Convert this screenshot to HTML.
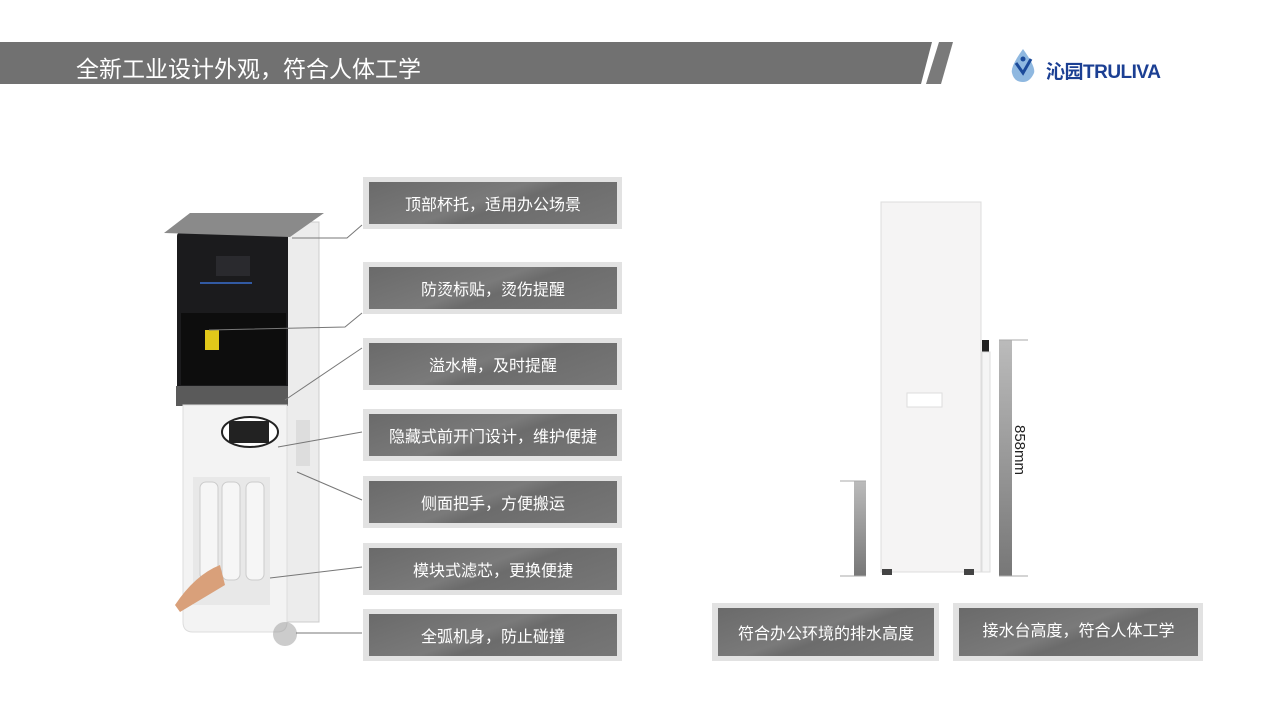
<!DOCTYPE html>
<html><head><meta charset="utf-8"><style>
body{margin:0;width:1280px;height:720px;background:#fff;position:relative;overflow:hidden;font-family:"Liberation Sans","Noto Sans CJK SC",sans-serif}
.box{position:absolute;background:#e2e2e2;}
.box .in{position:absolute;left:6px;right:5px;top:5px;bottom:5px;background:linear-gradient(160deg,#6a6a6a 0%,#7a7a7a 45%,#6c6c6c 55%,#777 100%);color:#fff;font-size:16px;display:flex;align-items:center;justify-content:center}
</style></head><body>
<svg width="1280" height="720" style="position:absolute;left:0;top:0">
<polygon points="0,42 932,42 921,84 0,84" fill="#717171"/>
<polygon points="939,42 953,42 941,84 926,84" fill="#7a7a7a"/>
<rect x="287" y="222" width="32" height="400" fill="#ececec" stroke="#ccc"/>
<rect x="296" y="420" width="14" height="46" fill="#ddd"/>
<rect x="177" y="232" width="111" height="170" rx="4" fill="#1b1b1d"/>
<rect x="181" y="313" width="105" height="72" fill="#0d0d0d"/>
<rect x="205" y="330" width="14" height="20" fill="#e1c81a"/>
<rect x="216" y="256" width="34" height="20" fill="#2a2a2e"/>
<line x1="200" y1="283" x2="252" y2="283" stroke="#3a6fd0" stroke-width="1.5"/>
<polygon points="164,233 190,213 324,213 290,237" fill="#8a8a8a"/>
<rect x="176" y="386" width="112" height="20" fill="#5a5a5a"/>
<path d="M183,405 H287 V622 Q287,632 277,632 H193 Q183,632 183,622 Z" fill="#f3f3f3" stroke="#ddd"/>
<ellipse cx="250" cy="432" rx="28" ry="15" fill="#fff" stroke="#222" stroke-width="2"/>
<rect x="229" y="421" width="40" height="22" fill="#222"/>
<rect x="193" y="477" width="77" height="128" fill="#e8e8e8"/>
<rect x="200" y="482" width="18" height="98" rx="6" fill="#f6f6f6" stroke="#ccc"/>
<rect x="222" y="482" width="18" height="98" rx="6" fill="#f6f6f6" stroke="#ccc"/>
<rect x="246" y="482" width="18" height="98" rx="6" fill="#f6f6f6" stroke="#ccc"/>
<path d="M175,605 Q195,575 220,565 L225,585 Q200,600 180,612 Z" fill="#d9a07a"/>
<circle cx="285" cy="634" r="12" fill="#999" opacity="0.5"/>
<g stroke="#777" stroke-width="1" fill="none">
<polyline points="292,238 347,238 362,225"/>
<polyline points="209,330 345,327 362,313"/>
<polyline points="285,400 362,348"/>
<polyline points="278,447 362,432"/>
<polyline points="297,472 362,500"/>
<polyline points="270,578 362,567"/>
<polyline points="296,633 362,633"/>
</g>
<rect x="881" y="202" width="100" height="370" fill="#f5f4f4" stroke="#ddd"/>
<rect x="907" y="393" width="35" height="14" fill="#fff" stroke="#ddd"/>
<rect x="882" y="569" width="10" height="6" fill="#444"/>
<rect x="964" y="569" width="10" height="6" fill="#444"/>
<rect x="982" y="340" width="7" height="12" fill="#222"/>
<rect x="982" y="352" width="8" height="220" fill="#f5f5f5" stroke="#ddd"/>
<defs><linearGradient id="g" x1="0" y1="0" x2="0" y2="1"><stop offset="0" stop-color="#bbb"/><stop offset="1" stop-color="#777"/></linearGradient></defs>
<rect x="999" y="340" width="13" height="236" fill="url(#g)"/>
<line x1="999" y1="340" x2="1028" y2="340" stroke="#aaa"/>
<line x1="999" y1="576" x2="1028" y2="576" stroke="#aaa"/>
<rect x="854" y="481" width="12" height="95" fill="url(#g)"/>
<line x1="840" y1="481" x2="866" y2="481" stroke="#aaa"/>
<line x1="840" y1="576" x2="866" y2="576" stroke="#aaa"/>
<text x="0" y="0" transform="translate(1015,425) rotate(90)" font-family="Liberation Sans" font-size="15" fill="#222">858mm</text>
</svg>
<div style="position:absolute;left:76px;top:50px;color:#fff;font-size:23px;">全新工业设计外观，符合人体工学</div>
<div style="position:absolute;left:1008px;top:47px;width:30px;height:36px;">
<svg width="30" height="36"><path d="M15,2 Q28,20 26,26 Q22,35 15,35 Q6,35 4,26 Q2,20 15,2Z" fill="#8fb8e0"/><path d="M8,16 L15,26 L23,12" stroke="#1b4a9a" stroke-width="3" fill="none"/><circle cx="15" cy="12" r="2.5" fill="#1b4a9a"/></svg></div>
<div style="position:absolute;left:1046px;top:57px;color:#1b3f93;font-size:19px;font-weight:bold;letter-spacing:-0.5px">沁园TRULIVA</div>
<div class="box" style="left:363px;top:177px;width:259px;height:52px"><div class="in">顶部杯托，适用办公场景</div></div>
<div class="box" style="left:363px;top:262px;width:259px;height:52px"><div class="in">防烫标贴，烫伤提醒</div></div>
<div class="box" style="left:363px;top:338px;width:259px;height:52px"><div class="in">溢水槽，及时提醒</div></div>
<div class="box" style="left:363px;top:409px;width:259px;height:52px"><div class="in">隐藏式前开门设计，维护便捷</div></div>
<div class="box" style="left:363px;top:476px;width:259px;height:52px"><div class="in">侧面把手，方便搬运</div></div>
<div class="box" style="left:363px;top:543px;width:259px;height:52px"><div class="in">模块式滤芯，更换便捷</div></div>
<div class="box" style="left:363px;top:609px;width:259px;height:52px"><div class="in">全弧机身，防止碰撞</div></div>
<div class="box" style="left:712px;top:603px;width:227px;height:58px"><div class="in">符合办公环境的排水高度</div></div>
<div class="box" style="left:953px;top:603px;width:250px;height:58px"><div class="in" style="padding-bottom:6px">接水台高度，符合人体工学</div></div>
</body></html>
